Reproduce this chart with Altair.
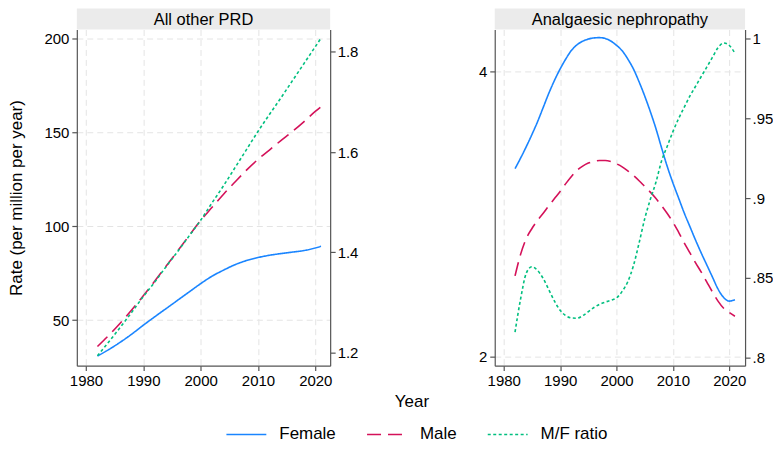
import altair as alt
import pandas as pd

FONT = "Liberation Sans, Arial, sans-serif"

# ---------------- data ----------------
series_names = ["Female", "Male", "M/F ratio"]
series_colors = ["#1a85ff", "#d41159", "#00bf7f"]
series_dashes = [[1, 0], [14, 7], [3, 2.5]]

panel_titles = ["All other PRD", "Analgaesic nephropathy"]
x_ticks = [1980, 1990, 2000, 2010, 2020]

# Panel 1: All other PRD
left_years = [1982, 1984, 1986, 1988, 1990, 1992, 1994, 1996, 1998, 2000,
              2002, 2004, 2006, 2008, 2010, 2012, 2014, 2016, 2018, 2020, 2021]
left_female = [30.9, 34.4, 38.3, 42.6, 47.3, 51.8, 56.2, 60.6, 65.0, 69.4,
               73.4, 76.6, 79.5, 81.7, 83.3, 84.5, 85.4, 86.2, 87.0, 88.4, 89.3]
left_male = [36.0, 42.0, 48.5, 55.5, 63.0, 70.8, 78.8, 86.8, 95.0, 103.0,
             110.0, 117.0, 123.5, 129.8, 135.5, 140.5, 145.5, 150.3, 155.5, 161.0, 163.5]
left_ratio = [1.194, 1.222, 1.251, 1.281, 1.312, 1.341, 1.372, 1.402, 1.433, 1.464,
              1.499, 1.533, 1.569, 1.605, 1.641, 1.675, 1.708, 1.742, 1.776, 1.810, 1.827]
left_rate_ticks = [50, 100, 150, 200]
left_ratio_ticks = [1.2, 1.4, 1.6, 1.8]

# Panel 2: Analgaesic nephropathy
right_years = list(range(1982, 2022))
right_female = [3.32, 3.395, 3.475, 3.56, 3.65, 3.75, 3.85, 3.94, 4.02, 4.09,
                4.15, 4.19, 4.215, 4.23, 4.238, 4.24, 4.234, 4.216, 4.186, 4.148,
                4.09, 4.02, 3.93, 3.83, 3.72, 3.60, 3.465, 3.335, 3.22, 3.115,
                3.01, 2.915, 2.82, 2.73, 2.645, 2.56, 2.475, 2.415, 2.39, 2.40]
right_male = [2.567, 2.72, 2.83, 2.90, 2.957, 3.007, 3.06, 3.11, 3.16, 3.215,
              3.265, 3.309, 3.338, 3.359, 3.372, 3.377, 3.377, 3.37, 3.354, 3.333,
              3.305, 3.272, 3.235, 3.195, 3.155, 3.11, 3.06, 3.005, 2.945, 2.875,
              2.80, 2.73, 2.66, 2.595, 2.525, 2.455, 2.39, 2.34, 2.31, 2.284]
right_ratio = [0.816, 0.837, 0.853, 0.857, 0.8546, 0.8496, 0.8425, 0.8354, 0.8297, 0.8263,
               0.8249, 0.8247, 0.8263, 0.8288, 0.8314, 0.8334, 0.8348, 0.836, 0.8374, 0.8415,
               0.8476, 0.8576, 0.8718, 0.887, 0.8992, 0.910, 0.9234, 0.9325, 0.9416, 0.9497,
               0.9568, 0.9638, 0.9699, 0.976, 0.982, 0.9881, 0.9942, 0.9972, 0.9956, 0.9908]
right_rate_ticks = [2, 4]
right_ratio_ticks = [0.8, 0.85, 0.9, 0.95, 1.0]

x_title = "Year"
y_title = "Rate (per million per year)"

# ---------------- styling ----------------
PLOT_H = 337
W_LEFT = 254
W_RIGHT = 251
STRIP_H = 21
AXIS_COL = "#555555"
GRID_COL = "#e4e4e4"

legend = alt.Legend(
    title=None, orient="none", legendX=149, legendY=385, direction="horizontal",
    symbolType="stroke", symbolSize=1600, symbolStrokeWidth=1.6,
    labelFont=FONT, labelFontSize=17, labelColor="#000000", labelOffset=12,
    columnPadding=27, padding=0, columns=3,
)
color_enc = alt.Color("series:N", scale=alt.Scale(domain=series_names, range=series_colors), legend=legend)
dash_enc = alt.StrokeDash("series:N", scale=alt.Scale(domain=series_names, range=series_dashes), legend=legend)


def axis_common(**kw):
    base = dict(labelFont=FONT, labelFontSize=15, labelColor="#000000",
                tickColor=AXIS_COL, domainColor=AXIS_COL, tickSize=5, labelPadding=3,
                domainWidth=1.2, tickWidth=1.2, titleFont=FONT, titleFontSize=17,
                titleFontWeight="normal", titleColor="#000000")
    base.update(kw)
    return alt.Axis(**base)


def panel(title, years, female, male, ratio, rate_dom, rate_ticks, ratio_dom,
          ratio_ticks, ratio_expr, xdom, width, rate_title, extra=None):
    rates = pd.DataFrame({
        "year": years + years,
        "value": female + male,
        "series": ["Female"] * len(years) + ["Male"] * len(years),
    })
    rat = pd.DataFrame({"year": years, "value": ratio, "series": ["M/F ratio"] * len(years)})

    x_enc = alt.X("year:Q", scale=alt.Scale(domain=xdom, nice=False, zero=False),
                  axis=axis_common(values=x_ticks, format="d", title=None, grid=True,
                                   gridColor=GRID_COL, gridDash=[6, 4], gridWidth=1,
                                   labelFlush=False))
    rate_axis_kw = dict(values=rate_ticks, grid=True, gridColor=GRID_COL, gridDash=[6, 4],
                        gridWidth=1, orient="left", minExtent=35, maxExtent=35)
    if rate_title:
        rate_axis_kw.update(title=rate_title, titlePadding=16)
    else:
        rate_axis_kw.update(title=None)
    rate_line = alt.Chart(rates).mark_line(interpolate="monotone", strokeWidth=1.6).encode(
        x=x_enc,
        y=alt.Y("value:Q", scale=alt.Scale(domain=rate_dom, nice=False, zero=False),
                axis=axis_common(**rate_axis_kw)),
        color=color_enc, strokeDash=dash_enc,
    )
    ratio_line = alt.Chart(rat).mark_line(interpolate="monotone", strokeWidth=1.6).encode(
        x=x_enc,
        y=alt.Y("value:Q", scale=alt.Scale(domain=ratio_dom, nice=False, zero=False),
                axis=axis_common(values=ratio_ticks, grid=False, orient="right", title=None,
                                 labelExpr=ratio_expr, labelPadding=2)),
        color=color_enc, strokeDash=dash_enc,
    )
    tdf = pd.DataFrame({"title": [title]})
    strip = alt.Chart(tdf).mark_rect(color="#ebebeb").encode(
        x=alt.value(0), x2=alt.value(width), y=alt.value(-STRIP_H), y2=alt.value(0))
    strip_text = alt.Chart(tdf).mark_text(font=FONT, fontSize=16.5, color="#000000",
                                          baseline="middle", align="center").encode(
        x=alt.value(width / 2), y=alt.value(-STRIP_H / 2 + 0.5), text="title:N")
    layers = [rate_line, ratio_line, strip, strip_text]
    if extra is not None:
        layers.append(extra)
    return alt.layer(*layers).resolve_scale(y="independent").properties(width=width, height=PLOT_H)


year_df = pd.DataFrame({"t": [x_title]})
year_text = alt.Chart(year_df).mark_text(font=FONT, fontSize=17, color="#000000",
                                         baseline="middle", align="center").encode(
    x=alt.value(336), y=alt.value(373), text="t:N")

left = panel(panel_titles[0], left_years, left_female, left_male, left_ratio,
             [25.8, 204.6], left_rate_ticks, [1.1743, 1.8444], left_ratio_ticks,
             "format(datum.value, '.1f')", [1978.4, 2022.6], W_LEFT, y_title, extra=year_text)
right = panel(panel_titles[1], right_years, right_female, right_male, right_ratio,
              [1.937, 4.297], right_rate_ticks, [0.795, 1.0056], right_ratio_ticks,
              "datum.value < 1 ? substring(format(datum.value, '.2~f'), 1) : format(datum.value, '.2~f')",
              [1978.4, 2022.8], W_RIGHT, None)

chart = alt.hconcat(left, right, spacing=165, bounds="flush").resolve_scale(
    color="shared", strokeDash="shared").resolve_legend(
    color="shared", strokeDash="shared").properties(
    padding={"left": 0, "top": 0, "right": 0, "bottom": 0}, background="white"
).configure_view(strokeWidth=0)

chart.save("out.html", embed_options={"renderer": "svg", "actions": False})
